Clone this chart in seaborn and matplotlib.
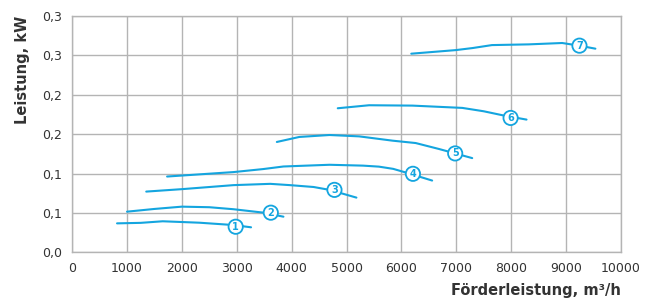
import numpy as np
import pandas as pd
import matplotlib
matplotlib.use("Agg")
import matplotlib.pyplot as plt
import seaborn as sns

sns.set_theme(style="whitegrid")
plt.rcParams['font.family'] = ['DejaVu Sans']

# Kennlinien (Förderleistung m³/h -> Leistung kW)
curve_ids = ["1", "2", "3", "4", "5", "6", "7"]
flow = {
    "1": [818, 1250, 1650, 2320, 2930, 3260],
    "2": [1000, 1500, 2000, 2500, 2940, 3490, 3850],
    "3": [1350, 2000, 2940, 3610, 3970, 4400, 4690, 5180],
    "4": [1730, 2940, 3480, 3850, 4690, 5300, 5590, 5850, 6080, 6560],
    "5": [3730, 4140, 4690, 5230, 5840, 6260, 6690, 7290],
    "6": [4840, 5410, 6200, 7110, 7500, 7870, 8280],
    "7": [6180, 6990, 7300, 7650, 8320, 8930, 9240, 9535],
}
power = {
    "1": [0.0405, 0.0412, 0.0434, 0.0414, 0.0382, 0.0350],
    "2": [0.0568, 0.0606, 0.0638, 0.0630, 0.0602, 0.0554, 0.0498],
    "3": [0.0848, 0.0882, 0.0938, 0.0956, 0.0938, 0.0912, 0.0872, 0.0764],
    "4": [0.1058, 0.1120, 0.1162, 0.1198, 0.1222, 0.1210, 0.1196, 0.1165, 0.1114, 0.1002],
    "5": [0.1540, 0.1610, 0.1637, 0.1618, 0.1558, 0.1525, 0.1441, 0.1315],
    "6": [0.2010, 0.2052, 0.2047, 0.2015, 0.1968, 0.1908, 0.1852],
    "7": [0.2771, 0.2821, 0.2850, 0.2891, 0.2901, 0.2920, 0.2883, 0.2841],
}
# Position der nummerierten Kreise
label_x = [2980, 3620, 4780, 6210, 6980, 7990, 9245]
label_y = [0.0358, 0.0554, 0.0872, 0.1096, 0.1380, 0.1875, 0.2883]

x_ticks = np.arange(0, 10001, 1000)
y_ticks = np.arange(0, 7) * 0.055

blue = "#14a5df"
grid_c = "#b4b4b4"
text_c = "#333333"

fig = plt.figure(figsize=(6.56, 3.03), dpi=100)
ax = fig.add_axes([0.110, 0.167, 0.8365, 0.781])

for cid in curve_ids:
    df = pd.DataFrame({"x": flow[cid], "y": power[cid]})
    sns.lineplot(data=df, x="x", y="y", ax=ax, color=blue, linewidth=1.5,
                 sort=False, estimator=None, zorder=3)

for cid, lx, ly in zip(curve_ids, label_x, label_y):
    ax.text(lx, ly, cid, ha="center", va="center", fontsize=7,
            fontweight="bold", color=blue, zorder=5,
            bbox=dict(boxstyle="circle,pad=0.22", fc="white", ec=blue, lw=1.3))

ax.set_xlim(0, 10000)
ax.set_ylim(0, 0.33)
ax.set_xticks(x_ticks)
ax.set_yticks(y_ticks)
ax.set_xticklabels([str(v) for v in x_ticks])
ax.set_yticklabels([f"{v:.1f}".replace(".", ",") for v in y_ticks])

ax.grid(True, color=grid_c, linewidth=1.0)
for s in ax.spines.values():
    s.set_visible(True)
    s.set_color(grid_c)
    s.set_linewidth(1.0)
ax.tick_params(axis="both", length=4, width=1.0, color=grid_c,
               labelsize=9, labelcolor=text_c, pad=3)

ax.set_xlabel("Förderleistung, m³/h", loc="right", fontsize=10.5,
              fontweight="bold", color=text_c, labelpad=6)
ax.set_ylabel("Leistung, kW", loc="top", fontsize=10.5,
              fontweight="bold", color=text_c, labelpad=9)

fig.savefig("out.png", dpi=100)
